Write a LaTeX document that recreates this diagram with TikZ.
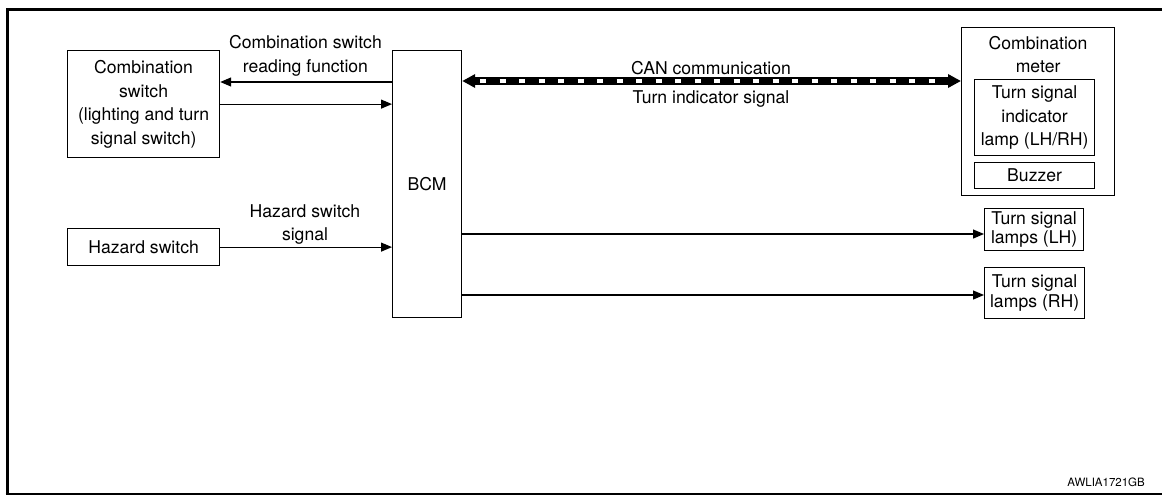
\documentclass[tikz,border=0pt]{standalone}
\usepackage{fontspec}
\setmainfont{TeX Gyre Heros}
\usepackage{tikz}
\usetikzlibrary{arrows.meta,positioning,calc}

\begin{document}
\begin{tikzpicture}[x=1pt, y=-1pt,
	every node/.style={font=\fontsize{17.6}{23.5}\selectfont, inner sep=0pt, align=center},
	unit/.style={draw, line width=1.2pt, anchor=north west},
	lamp/.style={unit, font=\fontsize{17.6}{19.5}\selectfont},
	sig/.style={line width=1.2pt, -{Triangle[length=11pt,width=9pt]}},
	canbus/.style={line width=7.5pt, {Triangle[length=13pt,width=13pt]}-{Triangle[length=13pt,width=13pt]}},
	candash/.style={white, line width=4.5pt, dash pattern=on 6pt off 13.5pt}]
				\useasboundingbox (0,0) rectangle (1162,496);
				% frame
				\draw[line width=3pt] (7,494) -- (7,9.5) -- (1162,9.5);
				\draw[line width=1.5pt] (5.5,494) -- (1162,494);

				% units
				\node[unit, minimum width=152pt, minimum height=107pt] (comb) at (67,50) {Combination\\switch\\(lighting and turn\\signal switch)};
				\node[unit, minimum width=152pt, minimum height=37pt] (hazard) at (67,228) {Hazard switch};
				\node[unit, minimum width=69pt, minimum height=267pt] (bcm) at (392,50) {BCM};
				\node[unit, minimum width=153pt, minimum height=168pt] (meter) at (961,27) {};
				\node[below=9pt of meter.north] (metertitle) {Combination\\meter};
				\node[unit, minimum width=120pt, minimum height=76pt] (indlamp) at (974,79) {Turn signal\\indicator\\lamp (LH/RH)};
				\node[unit, minimum width=120pt, minimum height=26pt] (buzzer) at (974,162) {Buzzer};
				\node[lamp, minimum width=99pt, minimum height=42pt] (lh) at (984,208) {Turn signal\\lamps (LH)};
				\node[lamp, minimum width=100pt, minimum height=51pt] (rh) at (984,267) {Turn signal\\lamps (RH)};

				% signals
				\coordinate[below=32pt of bcm.north west] (rd);
				\draw[sig] (rd) -- (rd -| comb.east);
				\draw[sig] (comb.east) -- (comb.east -| bcm.west);
				\node at (305.5,56) {Combination switch\\reading function};
				\draw[sig] (hazard.east) -- (hazard.east -| bcm.west);
				\node at (305,224.5) {Hazard switch\\signal};

				\coordinate[below=31pt of bcm.north east] (can);
				\draw[canbus] (can) -- (can -| meter.west);
				\draw[candash] ($(can)+(18,0)$) -- ($(can -| meter.west)+(-18,0)$);
				\node[anchor=base] at (711,74) {CAN communication};
				\node[anchor=base] at (711,103) {Turn indicator signal};

				\draw[sig] (bcm.east |- 0,234) -- (lh.west |- 0,234);
				\draw[sig] (bcm.east |- 0,295) -- (rh.west |- 0,295);

				\node[font=\fontsize{11.5}{14}\selectfont, anchor=base east] at (1145,486) {AWLIA1721GB};
\end{tikzpicture}
\end{document}
